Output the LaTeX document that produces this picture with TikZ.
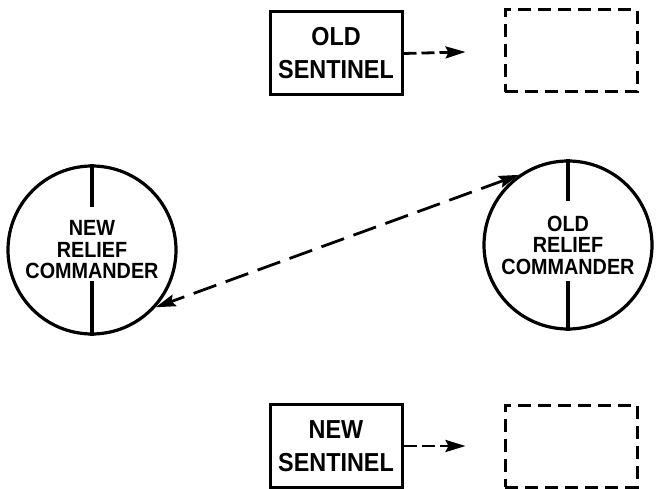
\documentclass[tikz,border=0pt]{standalone}
\usepackage{fontspec}
\newfontfamily\lettering[FakeStretch=0.9]{Liberation Sans}
\usetikzlibrary{arrows.meta}
\tikzset{sentinel/.style={draw,line width=3pt,minimum width=132pt,minimum height=83pt,align=center,font=\lettering\bfseries\fontsize{26}{33}\selectfont},
         post/.style={draw,line width=3pt,dash pattern=on 13pt off 7pt,minimum width=132pt,minimum height=82pt},
         commander/.style={draw,circle,line width=3.2pt,minimum size=168pt,inner sep=0pt,align=center,font=\lettering\bfseries\fontsize{22}{21.5}\selectfont},
         tip/.tip={Stealth[length=20pt,width=12pt,inset=3pt]},
         relief/.style={-tip,line width=2.8pt,dash pattern=on 13pt off 5pt},
        }

\begin{document}
\begin{tikzpicture}[x=1pt,y=-1pt]
        \useasboundingbox (0,0) rectangle (658,489);
        \node[sentinel](os)at(336,53.5){OLD\\SENTINEL};
        \node[post](op)at(571,51){};
        \node[sentinel](ns)at(336,446){NEW\\SENTINEL};
        \node[post](np)at(571,446){};
        \node[commander](nrc)at(92,250){NEW\\RELIEF\\COMMANDER};
        \node[commander](orc)at(568,245){OLD\\RELIEF\\COMMANDER};

        \draw[line width=3.2pt](nrc.north)--++(0,43);
        \draw[line width=3.2pt](nrc.south)--++(0,-55);
        \draw[line width=3.2pt](orc.north)--++(0,42);
        \draw[line width=3.2pt](orc.south)--++(0,-50);
        \draw[relief,shorten >=38pt](os.east)--(op.west);
        \draw[relief,shorten >=38pt](ns.east)--(np.west);
        \draw[relief,tip-tip,dash pattern=on 24pt off 10pt](orc.125)--(nrc.-42);
    \end{tikzpicture}
\end{document}
